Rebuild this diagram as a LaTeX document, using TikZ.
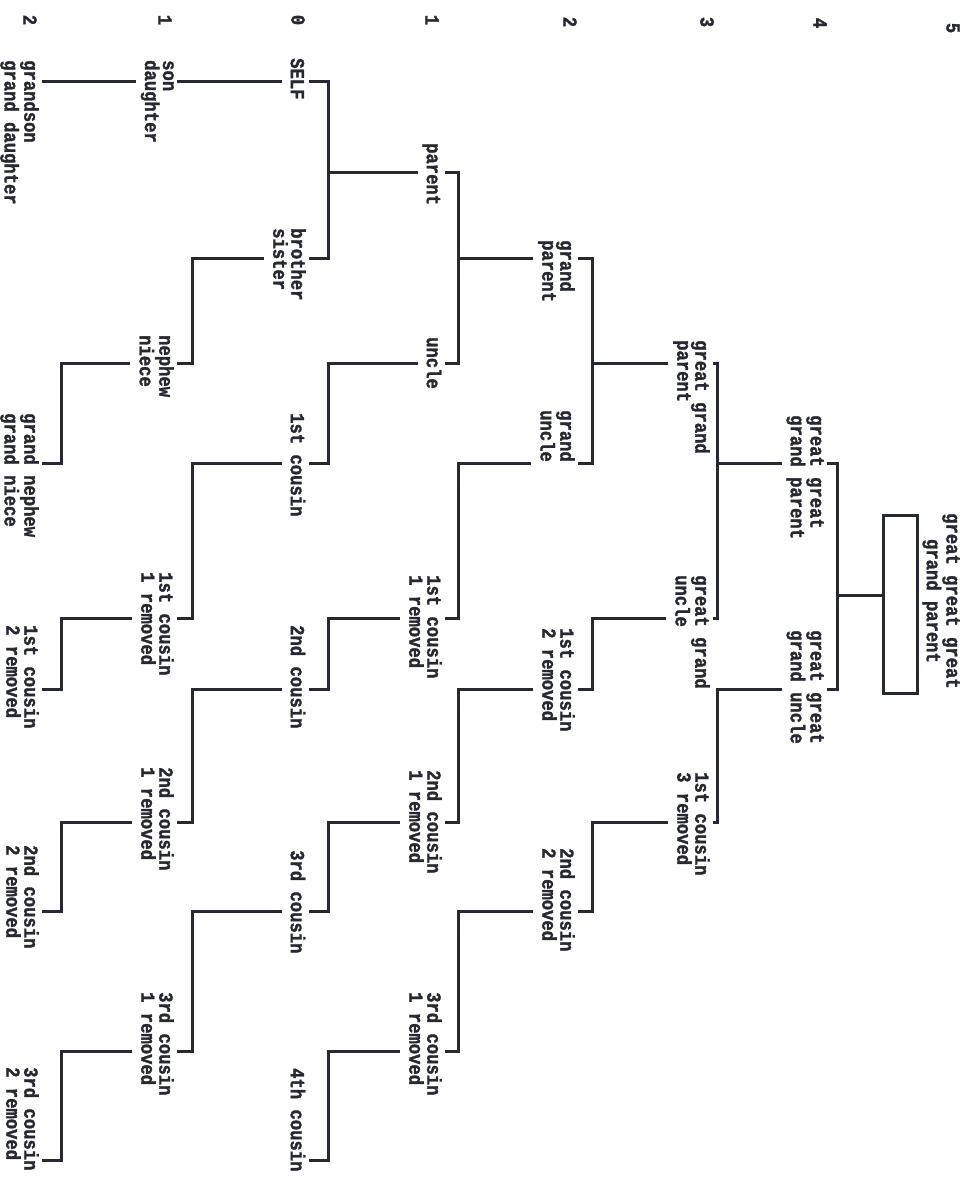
\documentclass[tikz,border=0pt]{standalone}
\usepackage{fontspec}
\usepackage{tikz}
\usetikzlibrary{positioning,calc}
\newfontfamily\chartfont{Liberation Mono}[FakeStretch=0.86, FakeBold=1.6]
\definecolor{ink}{RGB}{38,40,50}
\newcommand{\tstrut}{\rule{0pt}{15pt}}
\newcommand{\bstrut}{\rule[-6pt]{0pt}{6pt}}
\begin{document}
\begin{tikzpicture}[
  x=1pt, y=-1pt,
  font=\chartfont\bfseries\fontsize{20}{18}\selectfont,
  person/.style={rotate=-90, anchor=north west, align=left, inner sep=3pt, text=ink,
    execute at begin node=\tstrut, execute at end node=\bstrut},
  gen/.style={rotate=-90, inner sep=0pt, text=ink},
  link/.style={draw=ink, line width=3pt}
]
\useasboundingbox (0,0) rectangle (973,1188);
% ---------------- rows and bars
\coordinate (r0) at (0,82);
\coordinate (r1) at (0,172);
\coordinate (r2) at (0,258);
\coordinate (r3) at (0,363);
\coordinate (r4) at (0,463);
\coordinate (r5) at (0,595);
\coordinate (r6) at (0,618);
\coordinate (r7) at (0,689);
\coordinate (r8) at (0,822);
\coordinate (r9) at (0,911);
\coordinate (r10) at (0,1051);
\coordinate (r11) at (0,1160);
\coordinate (b0) at (61,0);
\coordinate (b1) at (192,0);
\coordinate (b2) at (328,0);
\coordinate (b3) at (458,0);
\coordinate (b4) at (592,0);
\coordinate (b5) at (717,0);
\coordinate (b6) at (837,0);
% ---------------- generation numbers
\node[gen] (lvA) at (30,20) {2};
\node[gen] (lvB) at (165,20) {1};
\node[gen] (lvC) at (298,20) {0};
\node[gen] (lvD) at (432,20) {1};
\node[gen] (lvE) at (570,22) {2};
\node[gen] (lvF) at (707,22) {3};
\node[gen] (lvG) at (820,23) {4};
\node[gen] (lvH) at (953,28) {5};
% ---------------- grandchildren column
\node[person] (gson) at (42,57) {grandson\\grand daughter};
\node[person] (gneph) at (42,410) {grand nephew\\grand niece};
\node[person] (c1r2d) at (42,622) {1st cousin\\2 removed};
\node[person] (c2r2d) at (42,842) {2nd cousin\\2 removed};
\node[person] (c3r2d) at (42,1064) {3rd cousin\\2 removed};
% ---------------- children column
\node[person] (son) at (177,57) {son\\daughter};
\node[person] (neph) at (177,332) {nephew\\niece};
\node[person] (c1r1d) at (177,569) {1st cousin\\1 removed};
\node[person] (c2r1d) at (177,764) {2nd cousin\\1 removed};
\node[person] (c3r1d) at (177,989) {3rd cousin\\1 removed};
% ---------------- self column
\node[person] (self) at (309,55) {SELF};
\node[person] (sib) at (309,225) {brother\\sister};
\node[person] (c1) at (309,410) {1st cousin};
\node[person] (c2) at (309,622) {2nd cousin};
\node[person] (c3) at (309,847) {3rd cousin};
\node[person] (c4) at (309,1065) {4th cousin};
% ---------------- parent column
\node[person] (par) at (445,140) {parent};
\node[person] (unc) at (445,334) {uncle};
\node[person] (c1r1a) at (445,572) {1st cousin\\1 removed};
\node[person] (c2r1a) at (445,767) {2nd cousin\\1 removed};
\node[person] (c3r1a) at (445,989) {3rd cousin\\1 removed};
% ---------------- grandparent column
\node[person] (gpar) at (578,237) {grand\\parent};
\node[person] (gunc) at (578,407) {grand\\uncle};
\node[person] (c1r2a) at (578,625) {1st cousin\\2 removed};
\node[person] (c2r2a) at (578,845) {2nd cousin\\2 removed};
% ---------------- great grandparent column
\node[person] (ggpar) at (713,337) {great grand\\parent};
\node[person] (ggunc) at (713,572) {great grand\\uncle};
\node[person] (c1r3) at (713,769) {1st cousin\\3 removed};
% ---------------- great great column
\node[person] (gggpar) at (827,412) {great great\\grand parent};
\node[person] (gggunc) at (827,627) {great great\\grand uncle};
% ---------------- top of the chart
\node[draw=ink, line width=3pt, minimum width=34pt, minimum height=178pt, inner sep=0pt] (gggg) at (900,604) {};
\node[person, align=center] (ggggtxt) at (963,510) {great great great\\grand parent};
% ---------------- connectors
\draw[link] (gggg.west |- r5) -| (b6 |- r4) -- (gggpar.north |- r4);
\draw[link] (gggg.west |- r5) -| (b6 |- r7) -- (gggunc.north |- r7);
\draw[link] (gggpar.south |- r4) -| (b5 |- r3) -- (ggpar.north |- r3);
\draw[link] (gggpar.south |- r4) -| (b5 |- r6) -- (ggunc.north |- r6);
\draw[link] (gggunc.south |- r7) -| (b5 |- r8) -- (c1r3.north |- r8);
\draw[link] (ggpar.south |- r3) -| (b4 |- r2) -- (gpar.north |- r2);
\draw[link] (ggpar.south |- r3) -| (b4 |- r4) -- (gunc.north |- r4);
\draw[link] (ggunc.south |- r6) -| (b4 |- r7) -- (c1r2a.north |- r7);
\draw[link] (c1r3.south |- r8) -| (b4 |- r9) -- (c2r2a.north |- r9);
\draw[link] (gpar.south |- r2) -| (b3 |- r1) -- (par.north |- r1);
\draw[link] (gpar.south |- r2) -| (b3 |- r3) -- (unc.north |- r3);
\draw[link] (gunc.south |- r4) -| (b3 |- r6) -- (c1r1a.north |- r6);
\draw[link] (c1r2a.south |- r7) -| (b3 |- r8) -- (c2r1a.north |- r8);
\draw[link] (c2r2a.south |- r9) -| (b3 |- r10) -- (c3r1a.north |- r10);
\draw[link] (par.south |- r1) -| (b2 |- r0) -- (self.north |- r0);
\draw[link] (par.south |- r1) -| (b2 |- r2) -- (sib.north |- r2);
\draw[link] (unc.south |- r3) -| (b2 |- r4) -- (c1.north |- r4);
\draw[link] (c1r1a.south |- r6) -| (b2 |- r7) -- (c2.north |- r7);
\draw[link] (c2r1a.south |- r8) -| (b2 |- r9) -- (c3.north |- r9);
\draw[link] (c3r1a.south |- r10) -| (b2 |- r11) -- (c4.north |- r11);
\draw[link] (self.south |- r0) -- (son.north |- r0);
\draw[link] (sib.south |- r2) -| (b1 |- r3) -- (neph.north |- r3);
\draw[link] (c1.south |- r4) -| (b1 |- r6) -- (c1r1d.north |- r6);
\draw[link] (c2.south |- r7) -| (b1 |- r8) -- (c2r1d.north |- r8);
\draw[link] (c3.south |- r9) -| (b1 |- r10) -- (c3r1d.north |- r10);
\draw[link] (son.south |- r0) -- (gson.north |- r0);
\draw[link] (neph.south |- r3) -| (b0 |- r4) -- (gneph.north |- r4);
\draw[link] (c1r1d.south |- r6) -| (b0 |- r7) -- (c1r2d.north |- r7);
\draw[link] (c2r1d.south |- r8) -| (b0 |- r9) -- (c2r2d.north |- r9);
\draw[link] (c3r1d.south |- r10) -| (b0 |- r11) -- (c3r2d.north |- r11);
\end{tikzpicture}
\end{document}
